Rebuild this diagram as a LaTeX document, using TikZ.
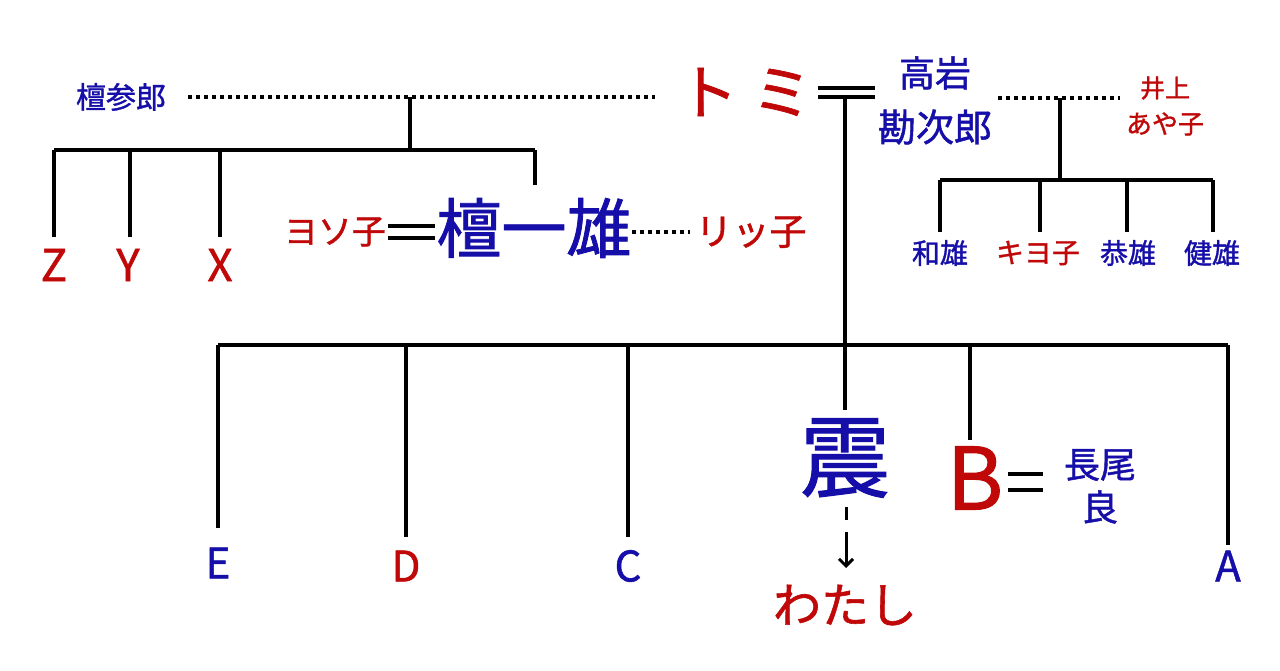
\documentclass[tikz,border=0pt]{standalone}
\usepackage{fontspec}
\newfontfamily\jp{Noto Sans CJK JP}[FakeBold=1.2]
\usetikzlibrary{arrows.meta}
\definecolor{nblue}{RGB}{22,14,168}
\definecolor{nred}{RGB}{192,8,8}
\begin{document}
\begin{tikzpicture}[x=1pt,y=1pt,
  fs/.style={inner sep=0pt, font=\jp\fontsize{#1}{#1}\selectfont},
  bl/.style={text=nblue}, rd/.style={text=nred},
  tree/.style={line width=3.5pt},
  eq/.style={line width=4pt},
  dots/.style={line width=3.5pt, dash pattern=on 3.5pt off 4.5pt},
]
\path[use as bounding box] (0,0) rectangle (1280,-670);

% top row
\node[fs=30,bl] (sanro) at (121,-97) {檀参郎};
\node[fs=60,rd] (tomi) at (745,-92) {ト\hspace{14pt}ミ};
\node[fs=36,bl] (takaiwa) at (935,-73) {高岩};
\node[fs=38,bl] (kanjiro) at (935,-127) {勘次郎};
\node[fs=25,rd] (inoue) at (1165,-88) {井上};
\node[fs=26,rd] (ayako) at (1165,-124) {あや子};

\coordinate (d1a) at (188,-97);
\coordinate (d1b) at (655,-97);
\draw[dots] (d1a) -- (d1b);

\coordinate (eqa) at (818,-88); \coordinate (eqb) at (875,-88);
\coordinate (eqc) at (818,-97); \coordinate (eqd) at (875,-97);
\draw[eq] (eqa) -- (eqb);
\draw[eq] (eqc) -- (eqd);

\coordinate (d2a) at (998,-98);
\coordinate (d2b) at (1120,-98);
\draw[dots] (d2a) -- (d2b);

% right family
\coordinate (rtop) at (1060,-98);
\coordinate (rbar) at (1060,-180);
\coordinate (rb1) at (940,-180);
\coordinate (rb2) at (1040,-180);
\coordinate (rb3) at (1127,-180);
\coordinate (rb4) at (1213,-180);
\node[fs=28,bl] (kazuo) at (940,-253) {和雄};
\node[fs=28,rd] (kiyoko) at (1038,-253) {キヨ子};
\node[fs=28,bl] (yasuo) at (1128,-253) {恭雄};
\node[fs=28,bl] (takeo) at (1212,-253) {健雄};
\draw[tree] (rtop) -- (rbar);
\draw[tree] (rb1) -- (rb4);
\draw[tree] (rb1) -- (940,-232);
\draw[tree] (rb2) -- (1040,-232);
\draw[tree] (rb3) -- (1127,-232);
\draw[tree] (rb4) -- (1213,-232);

% left family
\coordinate (ltop) at (410,-97);
\coordinate (lbar) at (410,-150);
\coordinate (lb1) at (54,-150);
\coordinate (lb2) at (130,-150);
\coordinate (lb3) at (220,-150);
\coordinate (lb4) at (535,-150);
\node[fs=44,rd] (z) at (54,-265) {Z};
\node[fs=44,rd] (y) at (128,-265) {Y};
\node[fs=44,rd] (xx) at (220,-265) {X};
\draw[tree] (ltop) -- (lbar);
\draw[tree] (lb1) -- (lb4);
\draw[tree] (lb1) -- (54,-237);
\draw[tree] (lb2) -- (130,-237);
\draw[tree] (lb3) -- (220,-237);
\draw[tree] (lb4) -- (535,-185);

\node[fs=34,rd] (yosoko) at (335,-232) {ヨソ子};
\draw[line width=4.5pt] (388,-226) -- (435,-226);
\draw[line width=4.5pt] (388,-238) -- (435,-238);
\node[fs=65,bl] (kazuo2) at (534,-228) {檀一雄};
\coordinate (d3a) at (632,-232);
\coordinate (d3b) at (690,-232);
\draw[dots] (d3a) -- (d3b);
\node[fs=37,rd] (ritsuko) at (751,-232) {リッ子};

% main family
\coordinate (mtop) at (845,-97);
\coordinate (mbar) at (845,-345);
\coordinate (mb1) at (218,-345);
\coordinate (mb2) at (406,-345);
\coordinate (mb3) at (628,-345);
\coordinate (mb5) at (970,-345);
\coordinate (mb6) at (1228,-345);
\draw[tree] (mtop) -- (845,-410);
\draw[tree] (mb1) -- (mb6);
\draw[tree] (mb1) -- (218,-528);
\draw[tree] (mb2) -- (406,-537);
\draw[tree] (mb3) -- (628,-537);
\draw[tree] (mb5) -- (970,-440);
\draw[tree] (mb6) -- (1228,-545);

\node[fs=42,bl] (e) at (218,-563) {E};
\node[fs=42,rd] (d) at (406,-566) {D};
\node[fs=42,bl] (c) at (628,-566) {C};
\node[fs=42,bl] (a) at (1228,-566) {A};

\node[fs=90,bl] (shin) at (845,-458) {震};
\node[fs=48,rd] (watashi) at (845,-605) {わたし};
\coordinate (arra) at (846,-507);
\coordinate (arrb) at (846,-568);
\draw[line width=3pt, dash pattern=on 13pt off 12pt on 60pt off 0pt, -{Straight Barb[length=7pt,width=14pt,line width=3pt]}] (arra) -- (arrb);

\node[fs=86,rd] (b) at (975,-478) {B};
\draw[eq] (1008,-474) -- (1043,-474);
\draw[eq] (1008,-490) -- (1043,-490);
\node[fs=36,bl] (nagao) at (1100,-465) {長尾};
\node[fs=36,bl] (ryo) at (1100,-507) {良};
\end{tikzpicture}
\end{document}
